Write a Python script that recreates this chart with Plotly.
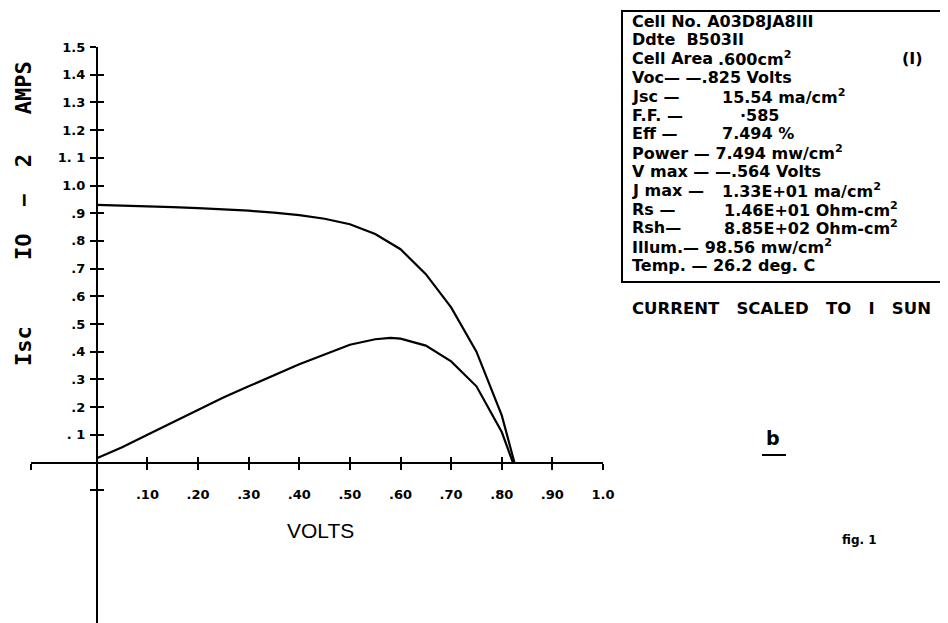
import plotly.graph_objects as go

# ---------------- data ----------------
iv_volts = [0.0, 0.05, 0.10, 0.15, 0.20, 0.25, 0.30, 0.35, 0.40, 0.45, 0.50,
            0.55, 0.60, 0.65, 0.70, 0.75, 0.80, 0.825]
iv_current = [0.930, 0.928, 0.925, 0.922, 0.918, 0.914, 0.909, 0.902, 0.893,
              0.880, 0.860, 0.825, 0.770, 0.680, 0.560, 0.400, 0.170, 0.0]

pw_volts = [0.0, 0.05, 0.10, 0.15, 0.20, 0.25, 0.30, 0.35, 0.40, 0.45, 0.50,
            0.55, 0.58, 0.60, 0.65, 0.70, 0.75, 0.80, 0.822]
pw_power = [0.015, 0.055, 0.100, 0.145, 0.190, 0.235, 0.275, 0.315, 0.355,
            0.390, 0.425, 0.445, 0.450, 0.447, 0.422, 0.365, 0.275, 0.110, 0.0]

x_tick_vals = [-0.13, 0.1, 0.2, 0.3, 0.4, 0.5, 0.6, 0.7, 0.8, 0.9, 1.0]
x_tick_text = ["", ".10", ".20", ".30", ".40", ".50", ".60", ".70", ".80", ".90", "1.0"]

y_tick_vals = [-0.1, 0.1, 0.2, 0.3, 0.4, 0.5, 0.6, 0.7, 0.8, 0.9,
               1.0, 1.1, 1.2, 1.3, 1.4, 1.5]
y_tick_text = ["", ". 1", ".2", ".3", ".4", ".5", ".6", ".7", ".8", ".9",
               "1.0", "1. 1", "1.2", "1.3", "1.4", "1.5"]

info_labels = ["Cell No. A03D8JA8III", "Ddte  B503II", "Cell Area", "Voc— —.825 Volts",
               "Jsc —", "F.F. —", "Eff —", "Power — 7.494 mw/cm<sup>2</sup>",
               "V max — —.564 Volts", "J max —", "Rs —", "Rsh—",
               "Illum.— 98.56 mw/cm<sup>2</sup>", "Temp. — 26.2 deg. C"]
info_values = ["", "", ".600cm<sup>2</sup>", "", "15.54 ma/cm<sup>2</sup>", "·585",
               "7.494 %", "", "", "1.33E+01 ma/cm<sup>2</sup>",
               "1.46E+01 Ohm-cm<sup>2</sup>", "8.85E+02 Ohm-cm<sup>2</sup>", "", ""]
info_value_px = [0, 0, 716, 0, 720, 738, 720, 0, 0, 720, 722, 722, 0, 0]

y_title = "Isc     IO  −  2   AMPS"
x_title = "VOLTS"
note_text = "CURRENT   SCALED   TO   I   SUN"

# ---------------- layout geometry (page has an 8px body margin) ----------------
OFF = 8
W, H = 948 - OFF, 623 - OFF
ML, MR, MT, MB = 31 - OFF, 345, 47 - OFF, 0
PW, PH = W - ML - MR, H - MT - MB
X_RANGE = [-0.13, 1.0]
Y_RANGE = [1.5 - PH / 277.0, 1.5]


def px(x):  # window pixel -> paper
    return (x - OFF - ML) / PW


def py(y):
    return (OFF + H - MB - y) / PH


x_pos = (0 - Y_RANGE[0]) / (Y_RANGE[1] - Y_RANGE[0])
y_pos = (0 - X_RANGE[0]) / (X_RANGE[1] - X_RANGE[0])

FONT = "DejaVu Sans"
tickfont = dict(family=FONT, size=13, color="black", weight="bold")

fig = go.Figure()
fig.add_trace(go.Scatter(x=iv_volts, y=iv_current, mode="lines",
                         line=dict(color="black", width=2.2), showlegend=False))
fig.add_trace(go.Scatter(x=pw_volts, y=pw_power, mode="lines",
                         line=dict(color="black", width=2.2), showlegend=False))
# empty trace so the overlay axes (inner half of the crossing ticks) are drawn
fig.add_trace(go.Scatter(x=[], y=[], xaxis="x2", yaxis="y2", showlegend=False))

axis_common = dict(showgrid=False, zeroline=False, linecolor="black",
                   tickcolor="black", tickwidth=2, automargin=False)

fig.update_layout(
    width=W, height=H,
    margin=dict(l=ML, r=MR, t=MT, b=MB),
    paper_bgcolor="white", plot_bgcolor="white",
    xaxis=dict(range=X_RANGE, anchor="free", position=x_pos, showline=True,
               linewidth=2, ticks="outside", ticklen=6, tickmode="array",
               tickvals=x_tick_vals, ticktext=x_tick_text, tickfont=tickfont,
               ticklabelstandoff=14, **axis_common),
    yaxis=dict(range=Y_RANGE, anchor="free", position=y_pos, showline=True,
               linewidth=2, ticks="outside", ticklen=6, tickmode="array",
               tickvals=y_tick_vals, ticktext=y_tick_text, tickfont=tickfont,
               ticklabelstandoff=2, **axis_common),
    xaxis2=dict(range=X_RANGE, overlaying="x", anchor="free", position=x_pos,
                showline=False, ticks="inside", ticklen=6, tickmode="array",
                tickvals=x_tick_vals, showticklabels=False, **axis_common),
    yaxis2=dict(range=Y_RANGE, overlaying="y", anchor="free", position=y_pos,
                showline=False, ticks="inside", ticklen=6, tickmode="array",
                tickvals=y_tick_vals, showticklabels=False, **axis_common),
)


def note(text, x, y, font, xanchor="center", angle=0):
    return dict(text=text, x=px(x), y=py(y), xref="paper", yref="paper",
                xanchor=xanchor, yanchor="middle", textangle=angle,
                showarrow=False, font=font)


ann = []
ann.append(note(y_title, 23, 214, dict(family="DejaVu Sans Mono", size=22,
                                       color="black", weight="bold"), angle=-90))
ann.append(note(x_title, 320, 530, dict(family="Liberation Sans", size=21,
                                        color="black")))
ann.append(note("fig. 1", 859, 540, dict(family=FONT, size=12, color="black",
                                         weight="bold")))
ann.append(note("b", 773, 438, dict(family=FONT, size=19, color="black",
                                    weight="bold")))

info_font = dict(family=FONT, size=16, color="black", weight="bold")
line_y0, line_dy = 21, 18.8
for i, (lab, val, vx) in enumerate(zip(info_labels, info_values, info_value_px)):
    yy = line_y0 + i * line_dy
    ann.append(note(lab, 630, yy, info_font, xanchor="left"))
    if val:
        ann.append(note(val, vx, yy, info_font, xanchor="left"))
ann.append(note("(I)", 900, line_y0 + 2 * line_dy, info_font, xanchor="left"))
ann.append(note(note_text, 630, 308, dict(family=FONT, size=16.5, color="black",
                                          weight="bold"), xanchor="left"))
fig.update_layout(annotations=ann)

fig.add_shape(type="rect", xref="paper", yref="paper", x0=px(622), x1=px(946),
              y0=py(282), y1=py(11), line=dict(color="black", width=2))
fig.add_shape(type="line", xref="paper", yref="paper", x0=px(762), x1=px(786),
              y0=py(455), y1=py(455), line=dict(color="black", width=2))

fig.write_html("out.html")
